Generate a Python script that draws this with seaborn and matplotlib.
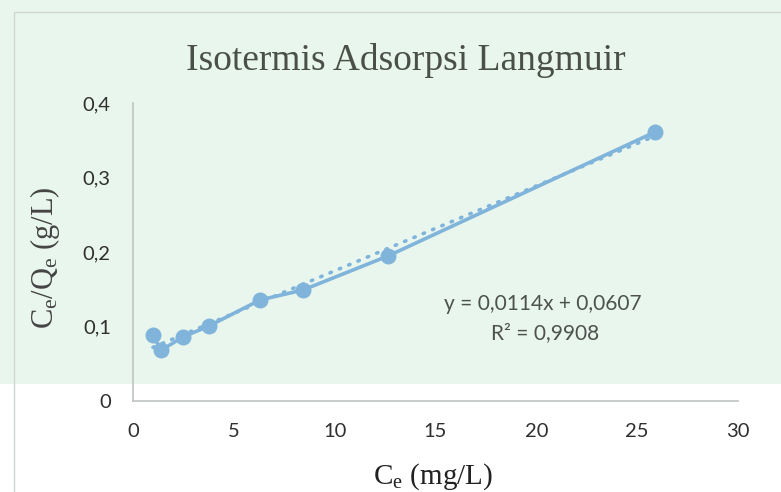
import matplotlib
matplotlib.use("Agg")
import matplotlib.pyplot as plt
import seaborn as sns
import pandas as pd
from matplotlib.patches import Rectangle
from matplotlib.ticker import FuncFormatter

# Data
ce = [0.99, 1.39, 2.48, 3.77, 6.30, 8.43, 12.64, 25.88]
ce_qe = [0.0886, 0.068, 0.086, 0.1007, 0.1356, 0.149, 0.1946, 0.361]
slope = 0.0114
intercept = 0.0607
eq_text = "y = 0,0114x + 0,0607"
r2_text = "R² = 0,9908"
title = "Isotermis Adsorpsi Langmuir"
x_ticks = [0, 5, 10, 15, 20, 25, 30]
y_ticks = [0, 0.1, 0.2, 0.3, 0.4]

df = pd.DataFrame({"Ce": ce, "CeQe": ce_qe})
trend = pd.DataFrame({"Ce": [min(ce), max(ce)]})
trend["CeQe"] = slope * trend["Ce"] + intercept

sns.set_theme(style="white")
plt.rcParams["font.family"] = ["Lato", "DejaVu Sans"]
plt.rcParams["mathtext.fontset"] = "custom"
plt.rcParams["mathtext.rm"] = "Liberation Serif"
plt.rcParams["mathtext.it"] = "Liberation Serif:italic"
plt.rcParams["mathtext.bf"] = "Liberation Serif:bold"

fig = plt.figure(figsize=(7.81, 4.92), dpi=100)
fig.patch.set_facecolor("white")
# light mint background (watermark tint)
bg = Rectangle((0, 0.22), 1, 0.78, transform=fig.transFigure,
               facecolor="#e9f6ee", edgecolor="none", zorder=-5)
fig.patches.append(bg)
border = Rectangle((14 / 781, -0.1), 1.0, 1 - 12 / 492 + 0.1,
                   transform=fig.transFigure, facecolor="none",
                   edgecolor="#d0d6d2", lw=1, zorder=-4)
fig.patches.append(border)

ax = fig.add_axes([133 / 781, 1 - 401 / 492, (738 - 133) / 781, (401 - 103) / 492])
ax.set_zorder(5)
ax.set_facecolor("none")
ax.patch.set_alpha(0)

color = "#80b4da"
sns.lineplot(data=trend, x="Ce", y="CeQe", ax=ax, color=color, lw=2.6,
             linestyle=(0, (0.4, 2.4)), dash_capstyle="round", zorder=2)
sns.lineplot(data=df, x="Ce", y="CeQe", ax=ax, color=color, lw=2.6,
             marker="o", markersize=11.5, markeredgewidth=0, sort=False, zorder=3)

ax.set_xlim(0, 30)
ax.set_ylim(0, 0.4)
ax.set_xticks(x_ticks)
ax.set_yticks(y_ticks)
ax.yaxis.set_major_formatter(FuncFormatter(lambda v, p: "0" if v == 0 else f"{v:.1f}".replace(".", ",")))
ax.tick_params(axis="both", length=0, labelsize=14.5, labelcolor="#2f2f2f")
ax.tick_params(axis="x", pad=16)
ax.tick_params(axis="y", pad=16)

for s in ["top", "right"]:
    ax.spines[s].set_visible(False)
for s in ["left", "bottom"]:
    ax.spines[s].set_color("#bfc4c1")
    ax.spines[s].set_linewidth(1.2)

ax.set_xlabel("")
ax.set_ylabel("")
fig.text(433 / 781, 1 - 477 / 492, r"C$_\mathregular{e}$ (mg/L)", ha="center", va="center",
         fontsize=21, family="Liberation Serif", color="#222222")
fig.text(45 / 781, 1 - 258 / 492, r"C$_\mathregular{e}$/Q$_\mathregular{e}$ (g/L)", ha="center", va="center",
         rotation=90, fontsize=22, family="Liberation Serif", color="#444444")
fig.text(406 / 781, 1 - 60 / 492, title, ha="center", va="center",
         fontsize=27, family="Liberation Serif", color="#4a5048")

fig.text(543 / 781, 1 - 304 / 492, eq_text, ha="center", va="center",
         fontsize=15, color="#4d524f")
fig.text(545 / 781, 1 - 333 / 492, r2_text, ha="center", va="center",
         fontsize=15, color="#4d524f")

fig.savefig("out.png", dpi=100, facecolor=fig.get_facecolor())
